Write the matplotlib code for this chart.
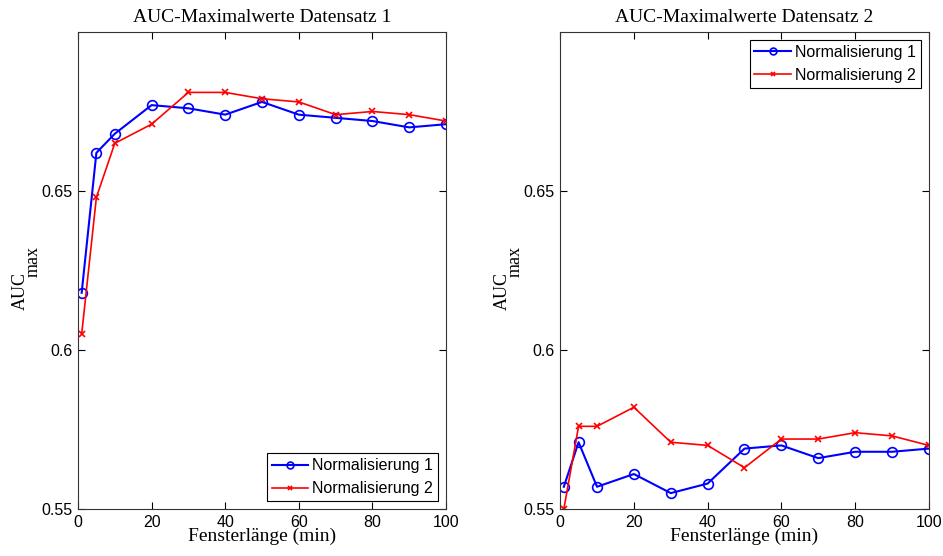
import matplotlib
matplotlib.use("Agg")
import matplotlib.pyplot as plt
from matplotlib.transforms import offset_copy

# window lengths in minutes
fenster = [1, 5, 10, 20, 30, 40, 50, 60, 70, 80, 90, 100]

# data set 1
ds1_norm1 = [0.618, 0.662, 0.668, 0.677, 0.676, 0.674, 0.678, 0.674, 0.673, 0.672, 0.670, 0.671]
ds1_norm2 = [0.605, 0.648, 0.665, 0.671, 0.681, 0.681, 0.679, 0.678, 0.674, 0.675, 0.674, 0.672]

# data set 2
ds2_norm1 = [0.557, 0.571, 0.557, 0.561, 0.555, 0.558, 0.569, 0.570, 0.566, 0.568, 0.568, 0.569]
ds2_norm2 = [0.550, 0.576, 0.576, 0.582, 0.571, 0.570, 0.563, 0.572, 0.572, 0.574, 0.573, 0.570]

titles = ["AUC-Maximalwerte Datensatz 1", "AUC-Maximalwerte Datensatz 2"]
labels = ["Normalisierung 1", "Normalisierung 2"]
xticks = [0, 20, 40, 60, 80, 100]
yticks = [0.55, 0.6, 0.65]

serif = "Liberation Serif"
sans = "Liberation Sans"

fig = plt.figure(figsize=(9.43, 5.56), dpi=100)
ax1 = fig.add_axes([0.0827, 0.0845, 0.3903, 0.858])
ax2 = fig.add_axes([0.594, 0.0845, 0.391, 0.858])

for ax, title, n1, n2, loc in [(ax1, titles[0], ds1_norm1, ds1_norm2, "lower right"),
                               (ax2, titles[1], ds2_norm1, ds2_norm2, "upper right")]:
    ax.plot(fenster, n1, color="#0000ff", lw=1.5, marker="o", ms=7,
            mfc="none", mew=1.2, label=labels[0])
    ax.plot(fenster, n2, color="#ff0000", lw=1.2, marker="x", ms=5,
            mew=1.2, label=labels[1])
    ax.set_xlim(0, 100)
    ax.set_ylim(0.55, 0.70)
    ax.set_xticks(xticks)
    ax.set_yticks(yticks)
    ax.set_yticklabels(["0.55", "0.6", "0.65"])
    ax.tick_params(direction="in", top=True, right=True, length=5,
                   labelsize=11.5, pad=4)
    for t in ax.get_xticklabels() + ax.get_yticklabels():
        t.set_fontfamily(sans)
    for s in ax.spines.values():
        s.set_linewidth(0.8)
        s.set_color("#333333")
    ax.set_title(title, fontfamily=serif, fontsize=14, pad=7)
    ax.set_xlabel("Fensterlänge (min)", fontfamily=serif, fontsize=14, labelpad=-1)

    # y label "AUC" with a large subscript "max"
    tr_auc = offset_copy(ax.transAxes, fig=fig, x=-58, y=0, units="dots")
    tr_max = offset_copy(ax.transAxes, fig=fig, x=-45, y=0, units="dots")
    ax.text(0, 0.457, "AUC", transform=tr_auc, rotation=90, ha="center",
            va="center", fontfamily=serif, fontsize=13)
    ax.text(0, 0.518, "max", transform=tr_max, rotation=90, ha="center",
            va="center", fontfamily=serif, fontsize=13)

    leg = ax.legend(loc=loc, prop={"family": sans, "size": 11.5}, fancybox=False,
                    framealpha=1, edgecolor="black", borderaxespad=0.5,
                    handlelength=2.3, handletextpad=0.25, borderpad=0.3,
                    labelspacing=0.5, markerscale=0.7)
    leg.get_frame().set_linewidth(0.8)

fig.savefig("out.png", dpi=100)
